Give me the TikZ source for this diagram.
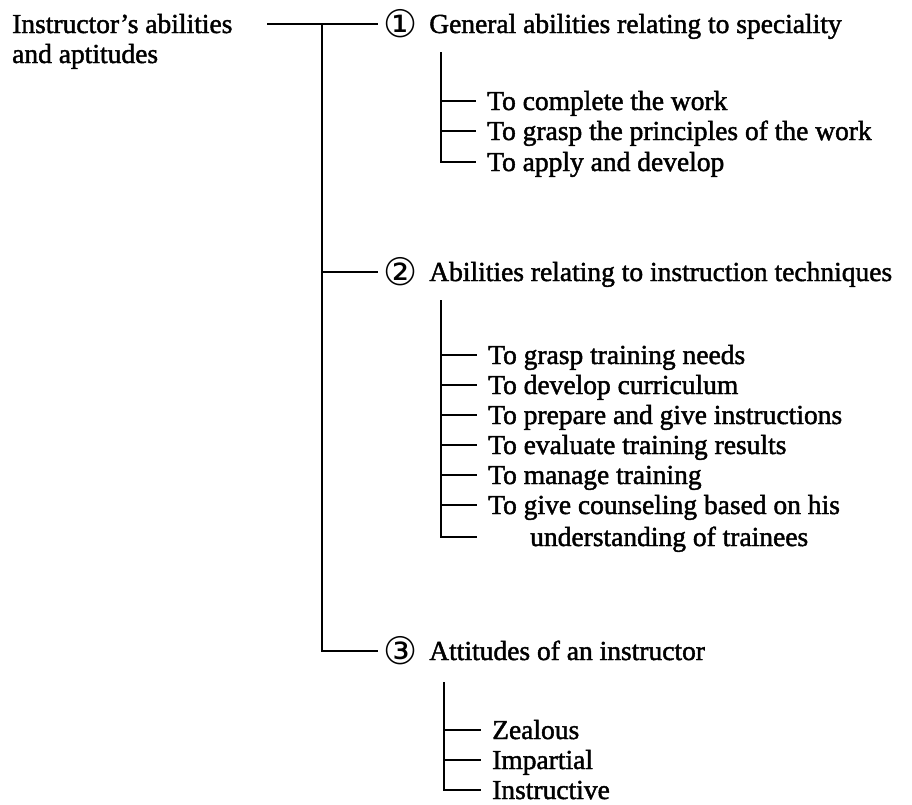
\documentclass[tikz,border=0pt]{standalone}
\usepackage{fontspec}
\newfontfamily\txtf{Liberation Serif}[BoldFont={Liberation Serif}, BoldFeatures={FakeBold=1.6}]
\newfontfamily\circf{DejaVu Sans}
\newcommand{\txtsize}{\txtf\bfseries\fontsize{27.5}{30}\selectfont}
\newcommand{\cnum}[1]{\raisebox{-4pt}{\circf\mdseries\fontsize{38}{38}\selectfont #1}\hspace{12pt}}
\begin{document}
\begin{tikzpicture}[x=1pt,y=-1pt,
  every node/.style={inner sep=0pt, anchor=west, font=\txtsize},
  head/.style={inner xsep=5pt, text height=18pt, text depth=0pt},
  item/.style={inner xsep=11pt, text height=18pt, text depth=0pt},
  conn/.style={draw=black, line width=1.8pt}]
\useasboundingbox (0,0) rectangle (912,804);

% root
\node[anchor=base west, align=left] (title) at (12,63) {Instructor’s abilities\\and aptitudes};
\coordinate (t0) at (267,24);
\coordinate (j0) at (322,24);

% headers
\node[head] (h1) at (378,24)  {\cnum{①}General abilities relating to speciality};
\node[head] (h2) at (378,272) {\cnum{②}Abilities relating to instruction techniques};
\node[head] (h3) at (378,651) {\cnum{③}Attitudes of an instructor};

\draw[conn] (t0) -- (h1.west);
\draw[conn] (j0) |- (h3.west);
\draw[conn] (j0 |- h2.west) -- (h2.west);

% group 1
\coordinate (v1) at (441,52);
\node[item] (c11) at (476,101) {To complete the work};
\node[item] (c12) at (476,131) {To grasp the principles of the work};
\node[item] (c13) at (476,162) {To apply and develop};
\draw[conn] (v1) |- (c13.west);
\draw[conn] (v1 |- c11.west) -- (c11.west);
\draw[conn] (v1 |- c12.west) -- (c12.west);

% group 2
\coordinate (v2) at (441,300);
\node[item] (c21) at (477,355) {To grasp training needs};
\node[item] (c22) at (477,385) {To develop curriculum};
\node[item] (c23) at (477,415) {To prepare and give instructions};
\node[item] (c24) at (477,445) {To evaluate training results};
\node[item] (c25) at (477,475) {To manage training};
\node[item] (c26) at (477,505) {To give counseling based on his};
\node[item] (c26b) at (519,537) {understanding of trainees};
\draw[conn] (v2) |- (c26.west |- c26b.west);
\foreach \n in {c21,c22,c23,c24,c25,c26}
  \draw[conn] (v2 |- \n.west) -- (\n.west);

% group 3
\coordinate (v3) at (444,682);
\node[item] (c31) at (481,730) {Zealous};
\node[item] (c32) at (481,760) {Impartial};
\node[item] (c33) at (481,790) {Instructive};
\draw[conn] (v3) |- (c33.west);
\draw[conn] (v3 |- c31.west) -- (c31.west);
\draw[conn] (v3 |- c32.west) -- (c32.west);
\end{tikzpicture}
\end{document}
